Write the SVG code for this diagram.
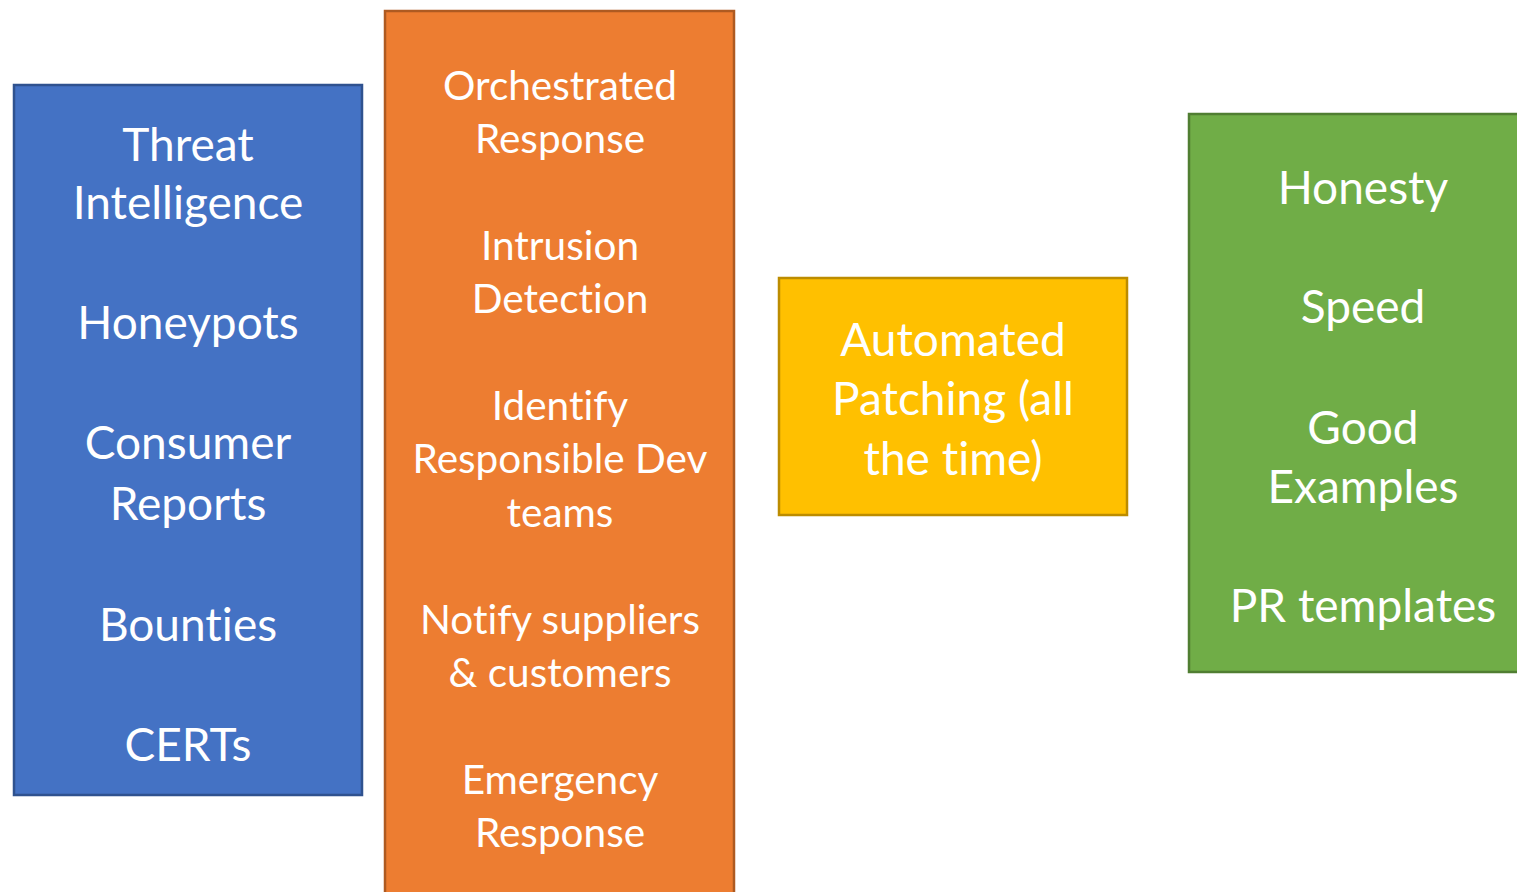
<svg xmlns="http://www.w3.org/2000/svg" width="1517" height="892" viewBox="0 0 1517 892">
  <style>
    .box { stroke-width: 2.5; }
    .lbl { font-family: Lato, "Open Sans", "Liberation Sans", sans-serif; fill: #ffffff; text-anchor: middle; font-variant-ligatures: none; font-feature-settings: "liga" 0, "dlig" 0, "clig" 0; }
    .big { font-size: 46px; }
    .mid { font-size: 40.5px; }
  </style>
  <rect width="1517" height="892" fill="#ffffff"/>

  <g id="sources">
    <rect class="box" x="14" y="85" width="348" height="710" fill="#4472C4" stroke="#2F528F"/>
    <text class="lbl big" x="188" y="161">Threat</text>
    <text class="lbl big" x="188" y="219">Intelligence</text>
    <text class="lbl big" x="188" y="339">Honeypots</text>
    <text class="lbl big" x="188" y="459">Consumer</text>
    <text class="lbl big" x="188" y="520">Reports</text>
    <text class="lbl big" x="188" y="641">Bounties</text>
    <text class="lbl big" x="188" y="761">CERTs</text>
  </g>

  <g id="response">
    <rect class="box" x="385" y="11" width="349" height="890" fill="#ED7D31" stroke="#AE5A21"/>
    <text class="lbl mid" x="560" y="100">Orchestrated</text>
    <text class="lbl mid" x="560" y="153">Response</text>
    <text class="lbl mid" x="560" y="260">Intrusion</text>
    <text class="lbl mid" x="560" y="313">Detection</text>
    <text class="lbl mid" x="560" y="420">Identify</text>
    <text class="lbl mid" x="560" y="473">Responsible Dev</text>
    <text class="lbl mid" x="560" y="527">teams</text>
    <text class="lbl mid" x="560" y="634">Notify suppliers</text>
    <text class="lbl mid" x="560" y="687">&amp; customers</text>
    <text class="lbl mid" x="560" y="794">Emergency</text>
    <text class="lbl mid" x="560" y="847">Response</text>
  </g>

  <g id="patching">
    <rect class="box" x="779" y="278" width="348" height="237" fill="#FFC000" stroke="#BC8C00"/>
    <text class="lbl big" x="953" y="356">Automated</text>
    <text class="lbl big" x="953" y="415">Patching (all</text>
    <text class="lbl big" x="953" y="475">the time)</text>
  </g>

  <g id="culture">
    <rect class="box" x="1189" y="114" width="340" height="558" fill="#70AD47" stroke="#507E32"/>
    <text class="lbl big" x="1363" y="204">Honesty</text>
    <text class="lbl big" x="1363" y="323">Speed</text>
    <text class="lbl big" x="1363" y="444">Good</text>
    <text class="lbl big" x="1363" y="503">Examples</text>
    <text class="lbl big" x="1363" y="622">PR templates</text>
  </g>

  <g id="connectors"></g>
</svg>
